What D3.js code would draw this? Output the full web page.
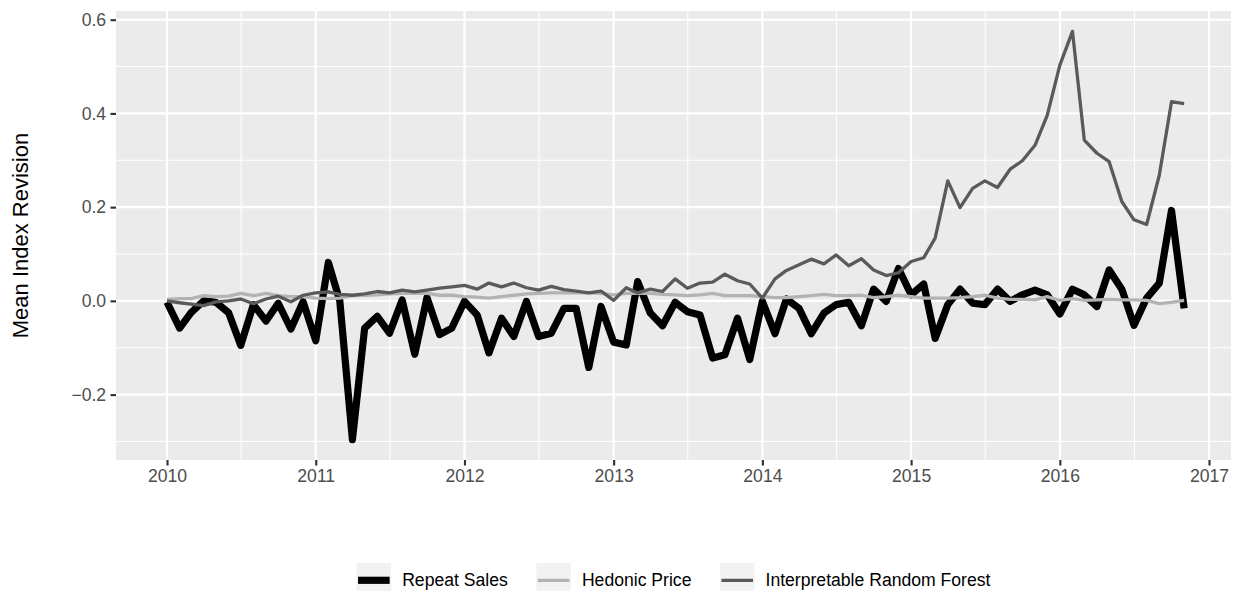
<!DOCTYPE html>
<html>
<head>
<meta charset="utf-8">
<script src="https://cdn.jsdelivr.net/npm/d3@7/dist/d3.min.js"></script>
<style>
  html, body { margin: 0; padding: 0; background: #ffffff; }
  svg { display: block; font-family: "Liberation Sans", Arial, Helvetica, sans-serif; }
</style>
</head>
<body>
<svg id="chart" width="1238" height="591"></svg>
<script>
// Monthly series, January 2010 through November 2016
const firstMonth = "2010-01-01";
const lastMonth = "2016-11-01";

const repeatSales = [
  -0.003, -0.058, -0.025, 0.000, -0.003, -0.025, -0.095, -0.008, -0.043, -0.005, -0.060, -0.002,
  -0.085, 0.082, 0.000, -0.296, -0.058, -0.033, -0.069, 0.002, -0.114, 0.007, -0.072, -0.058,
  -0.001, -0.030, -0.111, -0.037, -0.076, -0.001, -0.076, -0.069, -0.016, -0.016, -0.142, -0.012,
  -0.088, -0.094, 0.041, -0.026, -0.053, -0.003, -0.023, -0.030, -0.122, -0.115, -0.037, -0.125,
  -0.001, -0.070, 0.004, -0.016, -0.070, -0.026, -0.008, -0.003, -0.053, 0.025, -0.001, 0.069,
  0.013, 0.036, -0.080, -0.008, 0.025, -0.005, -0.008, 0.025, -0.001, 0.013, 0.023, 0.013,
  -0.028, 0.025, 0.013, -0.012, 0.066, 0.025, -0.052, 0.006, 0.038, 0.193, -0.016
];

const hedonicPrice = [
  0.003, 0.005, 0.005, 0.011, 0.009, 0.010, 0.016, 0.011, 0.016, 0.011, 0.009, 0.009,
  0.006, 0.005, 0.006, 0.011, 0.012, 0.013, 0.015, 0.016, 0.016, 0.016, 0.012, 0.012,
  0.009, 0.008, 0.006, 0.009, 0.012, 0.015, 0.016, 0.017, 0.017, 0.017, 0.017, 0.016,
  0.013, 0.016, 0.016, 0.016, 0.014, 0.013, 0.011, 0.013, 0.016, 0.011, 0.011, 0.011,
  0.009, 0.007, 0.007, 0.009, 0.011, 0.014, 0.011, 0.011, 0.012, 0.007, 0.009, 0.012,
  0.009, 0.006, 0.006, 0.006, 0.007, 0.009, 0.012, 0.006, 0.003, 0.003, 0.002, 0.009,
  0.001, 0.005, 0.001, 0.002, 0.003, 0.002, 0.002, 0.001, -0.006, -0.003, 0.001
];

const randomForest = [
  0.000, -0.004, -0.007, -0.010, -0.002, 0.000, 0.004, -0.006, 0.004, 0.010, -0.002, 0.012,
  0.017, 0.019, 0.014, 0.012, 0.015, 0.020, 0.017, 0.023, 0.019, 0.023, 0.027, 0.030,
  0.033, 0.025, 0.038, 0.030, 0.038, 0.028, 0.023, 0.031, 0.024, 0.021, 0.017, 0.021,
  0.001, 0.028, 0.017, 0.025, 0.020, 0.047, 0.027, 0.038, 0.040, 0.057, 0.043, 0.036,
  0.006, 0.047, 0.065, 0.077, 0.089, 0.079, 0.098, 0.075, 0.090, 0.066, 0.054, 0.060,
  0.084, 0.092, 0.134, 0.256, 0.199, 0.240, 0.256, 0.242, 0.281, 0.299, 0.332, 0.396,
  0.503, 0.575, 0.343, 0.315, 0.297, 0.212, 0.173, 0.163, 0.268, 0.425, 0.421
];

const seriesNames = ["Repeat Sales", "Hedonic Price", "Interpretable Random Forest"];
const seriesColors = ["#000000", "#b3b3b3", "#5a5a5a"];
const seriesWidths = [7.2, 3.3, 3.3];

const yearTicks = ["2010", "2011", "2012", "2013", "2014", "2015", "2016", "2017"];
const yTicks = [-0.2, 0.0, 0.2, 0.4, 0.6];
const yMinorTicks = [-0.3, -0.1, 0.1, 0.3, 0.5];
const yTitle = "Mean Index Revision";

// ---- layout ----
const W = 1238, H = 591;
const panel = { left: 116, right: 1231, top: 11, bottom: 460 };

const parse = d3.utcParse("%Y-%m-%d");
const months = d3.utcMonth.range(parse(firstMonth), d3.utcMonth.offset(parse(lastMonth), 1));
const valueSets = [repeatSales, hedonicPrice, randomForest];

const x = d3.scaleUtc()
  .domain([parse("2010-01-01"), parse("2017-01-01")])
  .range([167, 1209]);

const allValues = valueSets.flat();
const lo = d3.min(allValues), hi = d3.max(allValues);
const pad = (hi - lo) * 0.05;
const y = d3.scaleLinear()
  .domain([lo - pad, hi + pad])
  .range([panel.bottom, panel.top]);

const svg = d3.select("#chart");

// panel background
svg.append("rect")
  .attr("x", panel.left).attr("y", panel.top)
  .attr("width", panel.right - panel.left)
  .attr("height", panel.bottom - panel.top)
  .attr("fill", "#ebebeb");

const grid = svg.append("g");

const yearDates = yearTicks.map(t => parse(t + "-01-01"));
const halfYears = d3.range(2009, 2018).map(yr => parse(yr + "-07-02"))
  .filter(d => x(d) > panel.left && x(d) < panel.right);

// minor grid
grid.selectAll("line.hminor").data(yMinorTicks).join("line")
  .attr("x1", panel.left).attr("x2", panel.right)
  .attr("y1", d => y(d)).attr("y2", d => y(d))
  .attr("stroke", "#ffffff").attr("stroke-width", 1.07);
grid.selectAll("line.vminor").data(halfYears).join("line")
  .attr("y1", panel.top).attr("y2", panel.bottom)
  .attr("x1", d => x(d)).attr("x2", d => x(d))
  .attr("stroke", "#ffffff").attr("stroke-width", 1.07);

// major grid
grid.selectAll("line.hmajor").data(yTicks).join("line")
  .attr("x1", panel.left).attr("x2", panel.right)
  .attr("y1", d => y(d)).attr("y2", d => y(d))
  .attr("stroke", "#ffffff").attr("stroke-width", 2.13);
grid.selectAll("line.vmajor").data(yearDates).join("line")
  .attr("y1", panel.top).attr("y2", panel.bottom)
  .attr("x1", d => x(d)).attr("x2", d => x(d))
  .attr("stroke", "#ffffff").attr("stroke-width", 2.13);

// series lines
svg.append("clipPath").attr("id", "panel-clip")
  .append("rect")
  .attr("x", panel.left).attr("y", panel.top)
  .attr("width", panel.right - panel.left)
  .attr("height", panel.bottom - panel.top);

const line = d3.line()
  .x((d, i) => x(months[i]))
  .y(d => y(d));

const linesG = svg.append("g").attr("clip-path", "url(#panel-clip)");
valueSets.forEach((vals, k) => {
  linesG.append("path")
    .datum(vals)
    .attr("d", line)
    .attr("fill", "none")
    .attr("stroke", seriesColors[k])
    .attr("stroke-width", seriesWidths[k])
    .attr("stroke-linejoin", "round")
    .attr("stroke-linecap", "butt");
});

// axes
const fmt = d3.format(".1f");
const yAxis = d3.axisLeft(y).tickValues(yTicks).tickFormat(fmt).tickSize(5.5).tickPadding(4.4);
const xAxis = d3.axisBottom(x).tickValues(yearDates).tickFormat((d, i) => yearTicks[i]).tickSize(5.5).tickPadding(4.4);

const yG = svg.append("g").attr("transform", `translate(${panel.left},0)`).call(yAxis);
const xG = svg.append("g").attr("transform", `translate(0,${panel.bottom})`).call(xAxis);

[yG, xG].forEach(g => {
  g.select(".domain").remove();
  g.selectAll(".tick line").attr("stroke", "#333333").attr("stroke-width", 2.13);
  g.selectAll(".tick text")
    .attr("fill", "#4d4d4d")
    .style("font-size", "17.6px")
    .style("font-family", "'Liberation Sans', Arial, sans-serif");
});
xG.selectAll(".tick text").attr("dy", "0.7em");

// y title
svg.append("text")
  .attr("transform", `translate(28,${(panel.top + panel.bottom) / 2}) rotate(-90)`)
  .attr("text-anchor", "middle")
  .style("font-size", "22px")
  .attr("fill", "#000000")
  .text(yTitle);

// legend
const legendY = 563, keySize = 34.6;
const legend = svg.append("g");
const items = legend.selectAll("g").data(seriesNames).join("g");
items.append("rect")
  .attr("width", keySize).attr("height", keySize)
  .attr("fill", "#f2f2f2");
items.append("line")
  .attr("x1", 1.5).attr("x2", keySize - 1.5)
  .attr("y1", keySize / 2).attr("y2", keySize / 2)
  .attr("stroke", (d, i) => seriesColors[i])
  .attr("stroke-width", (d, i) => seriesWidths[i]);
const labels = items.append("text")
  .attr("x", keySize + 11)
  .attr("y", keySize / 2)
  .attr("dy", "0.35em")
  .style("font-size", "17.6px")
  .attr("fill", "#000000")
  .text(d => d);

let cursor = 0;
const offsets = [];
labels.each(function (d, i) {
  offsets.push(cursor);
  cursor += keySize + 11 + this.getComputedTextLength() + 28.5;
});
const total = cursor - 28.5;
const startX = (panel.left + panel.right) / 2 - total / 2;
items.attr("transform", (d, i) => `translate(${startX + offsets[i]},${legendY})`);
</script>
</body>
</html>
